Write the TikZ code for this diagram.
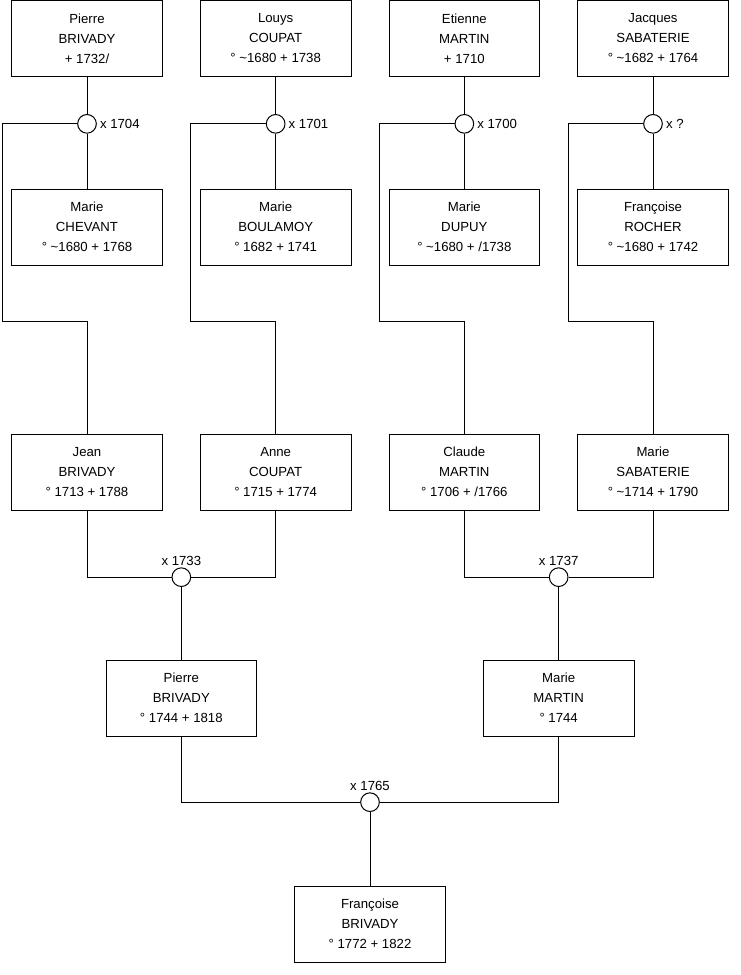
\documentclass[tikz,border=0pt]{standalone}
\usepackage{fontspec}
\setmainfont{Liberation Sans}
\usetikzlibrary{positioning}
\usetikzlibrary{calc}

\begin{document}
\begin{tikzpicture}[x=0.75pt,y=-0.75pt,line width=0.75pt,node distance=141.5pt,
    person/.style={draw,fill=white,minimum width=113pt,minimum height=57pt,align=center,font=\fontsize{9.9}{15}\selectfont},
    wed/.style={draw,circle,fill=white,minimum size=14pt,inner sep=0pt},
    every label/.style={font=\fontsize{9.9}{11}\selectfont,inner sep=1pt}]
        \useasboundingbox (0,0) rectangle (740,975);
        % grands-parents
        \node[person] (p1) at (87,38.5) {Pierre\\BRIVADY\\+ 1732/};
        \node[person] (p2) [right of=p1] {Louys\\COUPAT\\° \textasciitilde1680 + 1738};
        \node[person] (p3) [right of=p2] {Etienne\\MARTIN\\+ 1710};
        \node[person] (p4) [right of=p3] {Jacques\\SABATERIE\\° \textasciitilde1682 + 1764};
        \node[person] (w1) [below of=p1] {Marie\\CHEVANT\\° \textasciitilde1680 + 1768};
        \node[person] (w2) [below of=p2] {Marie\\BOULAMOY\\° 1682 + 1741};
        \node[person] (w3) [below of=p3] {Marie\\DUPUY\\° \textasciitilde1680 + /1738};
        \node[person] (w4) [below of=p4] {Françoise\\ROCHER\\° \textasciitilde1680 + 1742};
        \node[wed, label={[label distance=1pt]right:x 1704}] (m1) [below of=p1, node distance=64pt] {};
        \node[wed, label={[label distance=1pt]right:x 1701}] (m2) [below of=p2, node distance=64pt] {};
        \node[wed, label={[label distance=1pt]right:x 1700}] (m3) [below of=p3, node distance=64pt] {};
        \node[wed, label={[label distance=1pt]right:x ?}] (m4) [below of=p4, node distance=64pt] {};
        % parents
        \node[person] (c1) [below of=w1, node distance=183.75pt] {Jean\\BRIVADY\\° 1713 + 1788};
        \node[person] (c2) [below of=w2, node distance=183.75pt] {Anne\\COUPAT\\° 1715 + 1774};
        \node[person] (c3) [below of=w3, node distance=183.75pt] {Claude\\MARTIN\\° 1706 + /1766};
        \node[person] (c4) [below of=w4, node distance=183.75pt] {Marie\\SABATERIE\\° \textasciitilde1714 + 1790};
        \coordinate (r1) at ([shift={(-85,94)}]w1);
        \coordinate (r2) at ([shift={(-85,94)}]w2);
        \coordinate (r3) at ([shift={(-85,94)}]w3);
        \coordinate (r4) at ([shift={(-85,94)}]w4);
        \node[wed, label=above:x 1733] (m5) at ($(c1)!.5!(c2)+(0,105)$) {};
        \node[wed, label=above:x 1737] (m6) at ($(c3)!.5!(c4)+(0,105)$) {};
        \node[person] (q1) [below of=m5, node distance=90.75pt] {Pierre\\BRIVADY\\° 1744 + 1818};
        \node[person] (q2) [below of=m6, node distance=90.75pt] {Marie\\MARTIN\\° 1744};
        \node[wed, label=above:x 1765] (m7) at ($(q1)!.5!(q2)+(0,104)$) {};
        \node[person] (f) [below of=m7, node distance=91.5pt] {Françoise\\BRIVADY\\° 1772 + 1822};
        % liens
        \draw (p1) -- (m1) -- (w1);
        \draw (p2) -- (m2) -- (w2);
        \draw (p3) -- (m3) -- (w3);
        \draw (p4) -- (m4) -- (w4);
        \draw (m1) -| (r1) -| (c1);
        \draw (m2) -| (r2) -| (c2);
        \draw (m3) -| (r3) -| (c3);
        \draw (m4) -| (r4) -| (c4);
        \draw (c1) |- (m5) -| (c2);
        \draw (c3) |- (m6) -| (c4);
        \draw (m5) -- (q1);
        \draw (m6) -- (q2);
        \draw (q1) |- (m7) -| (q2);
        \draw (m7) -- (f);
    \end{tikzpicture}
\end{document}
